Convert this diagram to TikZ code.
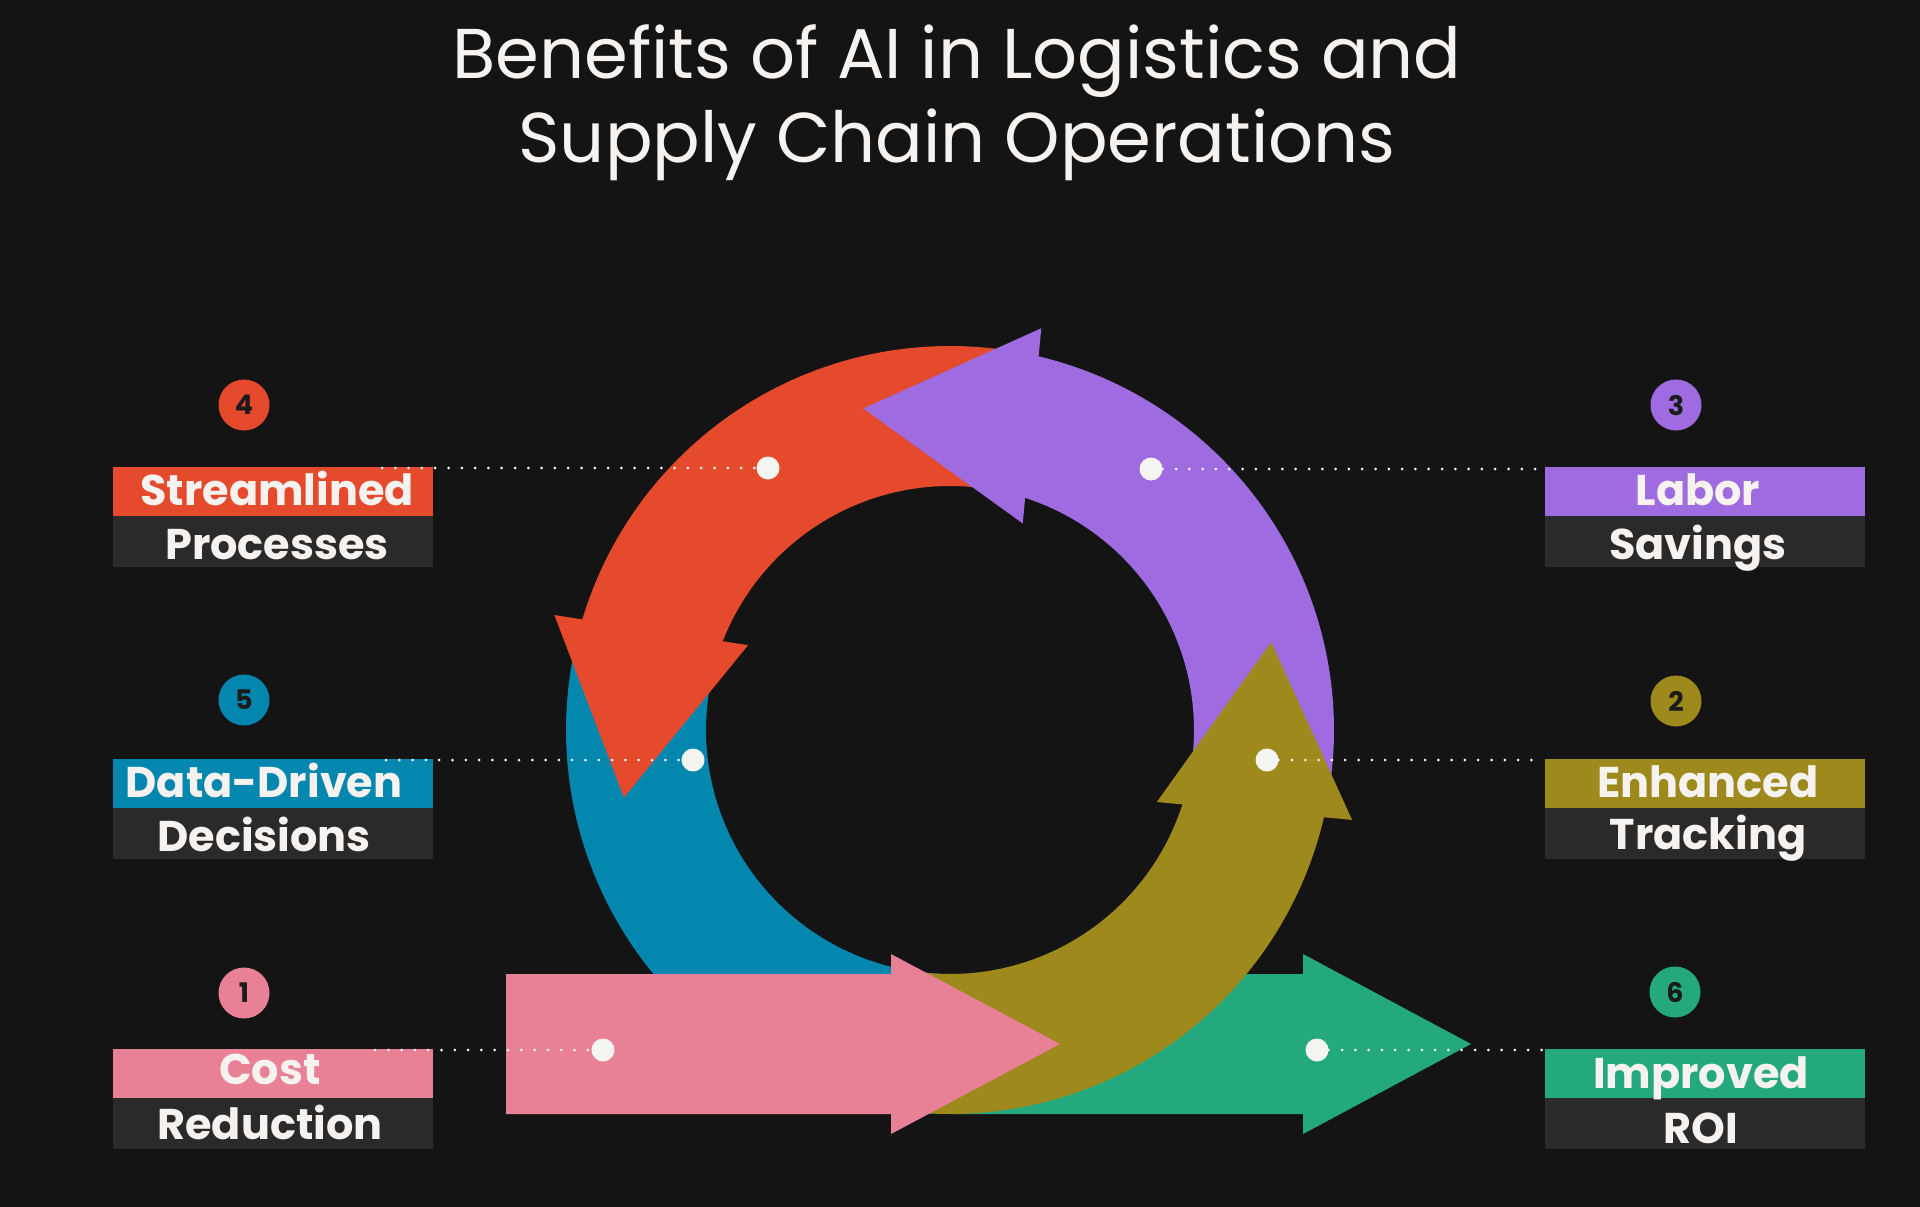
\documentclass[tikz,border=0pt]{standalone}
\usepackage{fontspec}
\setmainfont{Poppins}
\definecolor{bg}{HTML}{141414}
\definecolor{cred}{HTML}{E44A2B}
\definecolor{cpurple}{HTML}{9E6BE0}
\definecolor{cblue}{HTML}{0487AF}
\definecolor{colive}{HTML}{9E891D}
\definecolor{cpink}{HTML}{E88096}
\definecolor{cgreen}{HTML}{24A97E}
\definecolor{boxdark}{HTML}{2A2A2B}
\definecolor{txt}{HTML}{F6F2EF}
\definecolor{numtxt}{HTML}{1B1B1B}
\definecolor{dotw}{HTML}{F4F4F0}
\begin{document}
\begin{tikzpicture}[x=1pt,y=-1pt,
  topbox/.style={rectangle, inner sep=0pt, outer sep=0pt, minimum width=320pt, minimum height=49pt, anchor=north west},
  botbox/.style={rectangle, fill=boxdark, inner sep=0pt, outer sep=0pt, minimum width=320pt, minimum height=51pt, anchor=north west},
  lbl/.style={anchor=base, inner sep=0pt, text=txt, font=\bfseries\fontsize{43}{43}\selectfont},
  ttl/.style={anchor=base, inner sep=0pt, text=txt, font=\fontsize{70.5}{70.5}\selectfont},
  numc/.style={circle, inner sep=0pt, minimum size=51pt, text=numtxt, font=\bfseries\fontsize{27}{27}\selectfont},
  dotc/.style={circle, fill=dotw, inner sep=0pt, minimum size=23pt},
  dotl/.style={draw=dotw, line width=3pt, line cap=round, dash pattern=on 0pt off 13.3pt},
]
\fill[bg] (0,0) rectangle (1920,1207);
\useasboundingbox (0,0) rectangle (1920,1207);

% title
\node[ttl] (title1) at (957,78) {Benefits of AI in Logistics and};
\node[ttl] (title2) at (957,162) {Supply Chain Operations};

% green straight arrow (6)
\fill[cgreen] (950,974) -- (1303,974) -- (1303,954) -- (1471,1044) -- (1303,1134) -- (1303,1114) -- (950,1114) -- cycle;

% ring of arrows
\begin{scope}[shift={(950,730)}, yscale=-1]
  % blue band (5)
  \fill[cblue] plot[domain=168:268, samples=100] (\x:384) -- plot[domain=268:168, samples=100] (\x:244) -- cycle;
  % red arrow (4)
  \fill[cred] plot[domain=79:163.26, samples=100] (\x:384) -- (163.8:412) -- (191.7:333) -- (157.2:219)
     -- plot[domain=158.66:79, samples=100] (\x:244) -- cycle;
  % purple arrow (3)
  \fill[cpurple] plot[domain=-8:76.66, samples=100] (\x:384) -- (77.2:412) -- (105.1:333) -- (70.6:219)
     -- plot[domain=72.06:-8, samples=100] (\x:244) -- cycle;
  % olive arrow (2)
  \fill[colive] plot[domain=-97:-13.14, samples=100] (\x:384) -- (-12.6:412) -- (15.3:333) -- (-19.2:219)
     -- plot[domain=-17.74:-97, samples=100] (\x:244) -- cycle;
\end{scope}

% pink straight arrow (1)
\fill[cpink] (506,974) -- (891,974) -- (891,954) -- (1060,1044) -- (891,1134) -- (891,1114) -- (506,1114) -- cycle;

% label boxes, left
\node[topbox, fill=cred] (b4a) at (113,467) {};
\node[botbox] (b4b) at (113,516) {};
\node[topbox, fill=cblue] (b5a) at (113,759) {};
\node[botbox] (b5b) at (113,808) {};
\node[topbox, fill=cpink] (b1a) at (113,1049) {};
\node[botbox] (b1b) at (113,1098) {};
% label boxes, right
\node[topbox, fill=cpurple] (b3a) at (1545,467) {};
\node[botbox] (b3b) at (1545,516) {};
\node[topbox, fill=colive] (b2a) at (1545,759) {};
\node[botbox] (b2b) at (1545,808) {};
\node[topbox, fill=cgreen] (b6a) at (1545,1049) {};
\node[botbox] (b6b) at (1545,1098) {};

% label texts
\node[lbl] (t4a) at (277,505) {Streamlined};
\node[lbl] (t4b) at (277,559) {Processes};
\node[lbl] (t5a) at (264,797) {Data-Driven};
\node[lbl] (t5b) at (264,851) {Decisions};
\node[lbl] (t1a) at (270,1084) {Cost};
\node[lbl] (t1b) at (270,1139) {Reduction};
\node[lbl] (t3a) at (1698,505) {Labor};
\node[lbl] (t3b) at (1698,559) {Savings};
\node[lbl] (t2a) at (1708,797) {Enhanced};
\node[lbl] (t2b) at (1708,849) {Tracking};
\node[lbl] (t6a) at (1701,1088) {Improved};
\node[lbl] (t6b) at (1701,1143) {ROI};

% number circles
\node[numc, fill=cred] (n4) at (244,405) {4};
\node[numc, fill=cblue] (n5) at (244,700) {5};
\node[numc, fill=cpink] (n1) at (244,993) {1};
\node[numc, fill=cpurple] (n3) at (1676,405) {3};
\node[numc, fill=colive] (n2) at (1676,701) {2};
\node[numc, fill=cgreen] (n6) at (1675,992) {6};

% dotted leader lines and dots
\coordinate (l4) at (382,468);
\coordinate (l5) at (386,760);
\coordinate (l1) at (375,1050);
\coordinate (r3) at (1540,469);
\coordinate (r2) at (1537,760);
\coordinate (r6) at (1545,1050);
\node[dotc] (d4) at (768,468) {};
\node[dotc] (d3) at (1151,469) {};
\node[dotc] (d5) at (693,760) {};
\node[dotc] (d2) at (1267,760) {};
\node[dotc] (d1) at (603,1050) {};
\node[dotc] (d6) at (1317,1050) {};
\draw[dotl] (l4) -- (d4);
\draw[dotl] (l5) -- (d5);
\draw[dotl] (l1) -- (d1);
\draw[dotl] (d3) -- (r3);
\draw[dotl] (d2) -- (r2);
\draw[dotl] (d6) -- (r6);
\end{tikzpicture}
\end{document}
